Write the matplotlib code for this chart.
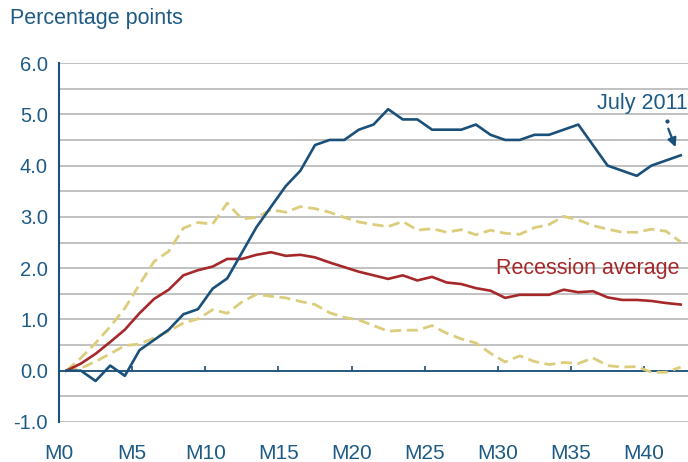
import matplotlib.pyplot as plt

plt.rcParams['font.family'] = ['Liberation Sans', 'DejaVu Sans']

months = list(range(43))
month_ticks = list(range(0, 41, 5))
month_labels = ['M{}'.format(m) for m in month_ticks]

current = [0.0, 0.0, -0.2, 0.1, -0.1, 0.4, 0.6, 0.8, 1.1, 1.2,
           1.6, 1.8, 2.3, 2.8, 3.2, 3.6, 3.9, 4.4, 4.5, 4.5,
           4.7, 4.8, 5.1, 4.9, 4.9, 4.7, 4.7, 4.7, 4.8, 4.6,
           4.5, 4.5, 4.6, 4.6, 4.7, 4.8, 4.4, 4.0, 3.9, 3.8,
           4.0, 4.1, 4.2]
rec_avg = [0.0, 0.14, 0.33, 0.56, 0.8, 1.12, 1.4, 1.58, 1.86, 1.96,
           2.03, 2.18, 2.18, 2.26, 2.31, 2.24, 2.26, 2.21, 2.11, 2.02,
           1.93, 1.86, 1.79, 1.86, 1.76, 1.83, 1.72, 1.69, 1.61, 1.56,
           1.42, 1.48, 1.48, 1.48, 1.58, 1.53, 1.55, 1.43, 1.38, 1.38,
           1.36, 1.32, 1.29]
rec_high = [0.0, 0.25, 0.54, 0.86, 1.22, 1.68, 2.13, 2.33, 2.78, 2.89,
            2.86, 3.27, 2.96, 2.99, 3.14, 3.09, 3.2, 3.16, 3.09, 2.99,
            2.9, 2.85, 2.81, 2.91, 2.74, 2.77, 2.7, 2.75, 2.65, 2.74,
            2.68, 2.66, 2.79, 2.85, 3.01, 2.94, 2.83, 2.76, 2.7, 2.7,
            2.76, 2.72, 2.51]
rec_low = [0.0, 0.05, 0.18, 0.33, 0.49, 0.52, 0.64, 0.77, 0.93, 1.01,
           1.19, 1.12, 1.34, 1.49, 1.45, 1.42, 1.35, 1.29, 1.13, 1.04,
           0.99, 0.88, 0.77, 0.79, 0.79, 0.88, 0.73, 0.62, 0.54, 0.34,
           0.17, 0.29, 0.18, 0.12, 0.16, 0.14, 0.25, 0.1, 0.07, 0.08,
           -0.03, -0.03, 0.07]

blue = '#1a5079'
red = '#a6282b'
gold = '#dccd7c'
txt = '#1d5b86'

fig = plt.figure(figsize=(6.88, 4.62), dpi=100)
ax = fig.add_axes([0.0858, 0.0866, 0.9142, 0.777])

for v in [x * 0.5 for x in range(-2, 13)]:
    ax.axhline(v, color='#bcbcbc', lw=1.3, zorder=1)
ax.axhline(0, color=blue, lw=1.3, zorder=2)

# category boundaries: tick marks on the zero line, labels sit on them
bounds = [m - 0.5 for m in month_ticks]
ax.vlines(bounds[1:], 0, 0.1, color=blue, lw=1.2, zorder=2)

ax.plot(months, rec_high, color=gold, lw=2, dashes=(4, 2), zorder=3)
ax.plot(months, rec_low, color=gold, lw=2, dashes=(4, 2), zorder=3)
ax.plot(months, rec_avg, color=red, lw=1.9, zorder=4)
ax.plot(months, current, color=blue, lw=1.9, zorder=5)

ax.text(42.45, 5.22, 'July 2011', color=txt, fontsize=15.5, ha='right', va='center')
ax.plot([41.05], [4.86], marker='o', ms=2, color=blue, zorder=5)
ax.annotate('', xy=(41.65, 4.36), xytext=(41.15, 4.72),
            arrowprops=dict(arrowstyle='-|>', color=blue, lw=1.6,
                            mutation_scale=13, shrinkA=0, shrinkB=0))
ax.text(41.95, 2.0, 'Recession average', color=red, fontsize=15.5, ha='right', va='center')

ax.set_xlim(-0.5, 42.5)
ax.set_ylim(-1.0, 6.0)
ax.set_yticks(range(-1, 7))
ax.set_yticklabels(['{:.1f}'.format(v) for v in range(-1, 7)])
ax.set_xticks(bounds)
ax.set_xticklabels(month_labels)
ax.tick_params(axis='y', length=0, pad=8, labelsize=14.5, labelcolor=txt)
ax.tick_params(axis='x', length=0, pad=16, labelsize=15, labelcolor=txt)

for s in ['top', 'right', 'bottom']:
    ax.spines[s].set_visible(False)
ax.spines['left'].set_color(blue)
ax.spines['left'].set_linewidth(1.5)

fig.text(0.015, 0.961, 'Percentage points', color=txt, fontsize=15.5, ha='left', va='center')

plt.savefig('out.png', dpi=100)
